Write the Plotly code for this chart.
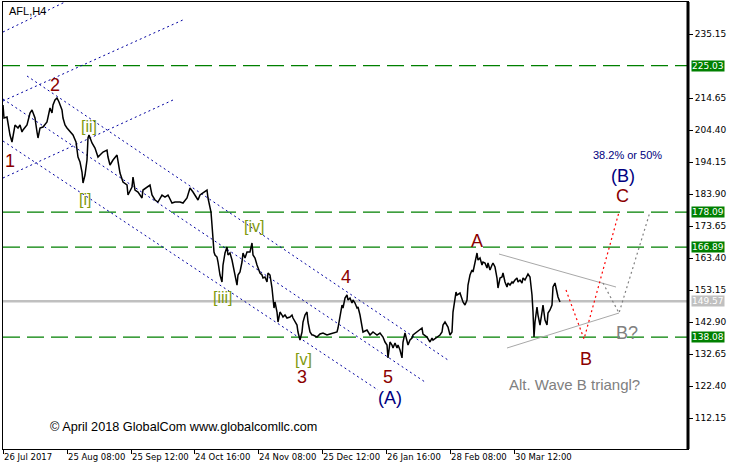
import plotly.graph_objects as go

# ---------------- data ----------------
bars = [0, 1, 4, 7, 9, 10, 12, 15, 17, 19, 20, 24, 27, 29, 30, 32, 34, 35, 37, 40, 44, 47, 49, 50, 52, 54, 56, 59, 60,
        62, 64, 67, 70, 73, 74, 75, 77, 79, 80, 82, 84, 85, 86, 89, 92, 95, 97, 100, 104, 105, 107, 110, 114, 115, 117,
        120, 124, 125, 129, 130, 132, 135, 139, 140, 144, 147, 149, 152, 155, 159, 162, 165, 169, 172, 177, 180, 184,
        187, 190, 195, 197, 200, 204, 205, 207, 208, 209, 210, 211, 212, 214, 215, 217, 219, 220, 222, 224, 225, 227,
        229, 230, 232, 234, 235, 237, 239, 240, 242, 244, 247, 249, 250, 252, 254, 255, 257, 259, 260, 262, 264, 265,
        267, 269, 270, 271, 272, 274, 275, 277, 279, 280, 282, 284, 287, 289, 290, 294, 295, 297, 299, 300, 302, 304,
        305, 307, 309, 310, 314, 317, 320, 324, 327, 330, 334, 335, 337, 339, 340, 342, 344, 345, 347, 349, 350, 352,
        354, 355, 357, 359, 360, 364, 367, 370, 374, 377, 380, 382, 384, 385, 387, 389, 390, 392, 394, 395, 397, 399,
        400, 402, 404, 405, 407, 409, 410, 414, 417, 419, 420, 424, 427, 429, 430, 434, 437, 439, 440, 442, 445, 447,
        449, 450, 452, 453, 454, 457, 460, 462, 464, 465, 467, 469, 470, 472, 474, 475, 477, 479, 480, 482, 484, 485,
        487, 489, 490, 492, 494, 495, 497, 499, 500, 502, 504, 505, 507, 509, 510, 512, 514, 515, 517, 519, 520, 522,
        524, 525, 527, 529, 530, 531, 532, 534, 535, 537, 539, 540, 542, 544, 545, 547, 549, 550, 552, 554, 555, 557]

closes = [212.41, 208.24, 208.56, 202.80, 200.56, 202.80, 206.00, 205.04, 206.00, 203.76, 204.40, 206.00, 209.85,
          210.81, 209.85, 208.24, 203.76, 201.84, 205.04, 205.36, 206.96, 211.45, 209.85, 212.41, 214.01, 214.65,
          213.37, 210.81, 208.24, 206.00, 205.04, 203.76, 202.80, 200.56, 198.64, 195.75, 194.15, 190.95, 187.43,
          189.99, 194.79, 201.84, 202.80, 200.24, 198.64, 195.75, 196.39, 197.35, 197.99, 195.75, 193.19, 194.79,
          196.39, 194.15, 190.63, 187.75, 186.78, 183.58, 186.14, 189.35, 185.18, 184.54, 182.62, 185.18, 186.14,
          186.78, 183.58, 181.98, 181.34, 183.58, 182.94, 183.58, 181.02, 181.34, 181.34, 181.02, 182.62, 185.82,
          184.54, 181.98, 183.58, 184.22, 185.18, 182.62, 179.42, 178.14, 173.97, 169.81, 165.32, 164.36, 163.72,
          162.12, 157.96, 155.71, 161.16, 165.00, 166.92, 164.36, 165.00, 162.76, 161.16, 158.93, 154.73, 157.96,
          158.93, 162.12, 165.00, 163.40, 165.32, 165.32, 168.21, 164.36, 163.40, 161.16, 160.20, 158.60, 157.96,
          157.00, 157.32, 155.71, 158.60, 157.96, 153.79, 149.31, 147.38, 149.31, 146.10, 142.90, 146.10, 145.14,
          144.50, 145.14, 144.18, 144.50, 145.14, 144.18, 141.94, 139.70, 137.14, 139.70, 142.90, 145.14, 146.10,
          142.90, 139.70, 138.74, 138.74, 138.09, 139.06, 139.38, 138.74, 139.06, 139.38, 139.70, 140.98, 145.14,
          148.35, 147.39, 150.59, 151.55, 149.95, 150.59, 148.99, 149.95, 148.99, 147.39, 147.71, 145.14, 140.98,
          139.70, 140.34, 138.74, 139.70, 138.74, 139.38, 138.09, 136.49, 135.54, 131.40, 136.49, 135.54, 134.58,
          136.18, 134.58, 135.54, 133.93, 131.40, 136.49, 139.38, 137.14, 135.54, 137.14, 137.77, 138.74, 139.70,
          140.34, 140.98, 139.06, 138.09, 136.49, 137.77, 137.14, 138.09, 138.74, 139.70, 141.94, 142.90, 141.30,
          138.74, 139.70, 146.10, 150.59, 152.51, 151.55, 152.19, 149.31, 148.35, 149.95, 154.75, 157.96, 159.56,
          158.92, 162.12, 165.00, 162.76, 163.40, 161.16, 162.12, 161.80, 160.20, 161.80, 159.56, 161.16, 161.80,
          160.52, 157.00, 153.79, 157.00, 157.32, 158.60, 155.71, 154.11, 155.39, 154.75, 155.71, 155.39, 156.34,
          157.00, 155.71, 156.34, 155.39, 157.00, 156.34, 157.96, 158.28, 157.32, 151.55, 146.10, 138.09, 142.90,
          147.71, 145.14, 141.94, 146.10, 148.35, 143.54, 141.94, 145.78, 146.75, 148.35, 154.11, 155.39, 152.51,
          150.91, 149.31]

tick_bars = [0, 64, 128, 191, 255, 319, 383, 447, 511]
tick_dates = ["26 Jul 2017", "25 Aug 08:00", "25 Sep 12:00", "24 Oct 16:00", "24 Nov 08:00",
              "25 Dec 12:00", "26 Jan 16:00", "28 Feb 08:00", "30 Mar 12:00"]
price_ticks = [235.15, 214.65, 204.40, 194.15, 183.90, 173.65, 163.40, 153.15, 142.90, 132.65, 122.40, 112.15]

green_levels = [225.03, 178.09, 166.89, 138.08]
grey_level = 149.57

# channel lines: (bar0, price0, bar1, price1)
channel_lines = [
    (0, 235.79, 62, 245.40),
    (0, 213.69, 182, 239.95),
    (0, 189.03, 170, 214.01),
    (24, 221.70, 445, 130.73),
    (0, 214.33, 422, 123.69),
    (0, 200.88, 375, 121.12),
]
triangle_lines = [
    (496, 164.68, 613, 154.11),
    (504, 134.58, 616, 145.79),
]
red_path_bars = [563, 581, 616]
red_path_prices = [153.15, 137.46, 178.14]
grey_path_bars = [600, 616, 647]
grey_path_prices = [155.39, 145.79, 178.14]

# wave labels: (text, bar, price, colour, size)
DR = "#8B0000"
NV = "#000080"
OL = "#7f9a10"
GR = "#808080"
labels = [
    ("1", 7, 194.47, DR, 18), ("2", 52, 218.81, DR, 18), ("3", 299, 125.28, DR, 18),
    ("4", 343, 157.32, DR, 18), ("5", 385, 125.28, DR, 18), ("(A)", 387, 118.56, NV, 18),
    ("A", 474, 168.85, DR, 18), ("B", 583, 131.05, DR, 18), ("C", 619, 183.26, DR, 18),
    ("(B)", 620, 189.67, NV, 18), ("38.2% or 50%", 624, 196.39, NV, 11),
    ("B?", 624, 139.38, GR, 18), ("Alt. Wave B triangl?", 571, 123.04, GR, 15),
    ("[i]", 82, 182.30, OL, 16), ("[ii]", 86, 205.68, OL, 16), ("[iii]", 220, 150.91, OL, 16),
    ("[iv]", 251, 173.65, OL, 16), ("[v]", 300, 131.05, OL, 16),
]

# ---------------- figure ----------------
fig = go.Figure()

for (x0, y0, x1, y1) in channel_lines:
    fig.add_trace(go.Scatter(x=[x0, x1], y=[y0, y1], mode="lines",
                             line=dict(color="#0000a0", width=1, dash="2px,3px"),
                             hoverinfo="skip", showlegend=False))
for (x0, y0, x1, y1) in triangle_lines:
    fig.add_trace(go.Scatter(x=[x0, x1], y=[y0, y1], mode="lines",
                             line=dict(color="#a8a8a8", width=1),
                             hoverinfo="skip", showlegend=False))

fig.add_trace(go.Scatter(x=red_path_bars, y=red_path_prices, mode="lines",
                         line=dict(color="#ff0000", width=1.2, dash="2px,3px"),
                         hoverinfo="skip", showlegend=False))
fig.add_trace(go.Scatter(x=grey_path_bars, y=grey_path_prices, mode="lines",
                         line=dict(color="#808080", width=1.2, dash="2px,3px"),
                         hoverinfo="skip", showlegend=False))

fig.add_trace(go.Scatter(x=bars, y=closes, mode="lines",
                         line=dict(color="black", width=1.5),
                         hoverinfo="skip", showlegend=False))

shapes = []
for lv in green_levels:
    shapes.append(dict(type="line", xref="paper", x0=0, x1=1, yref="y", y0=lv, y1=lv,
                       line=dict(color="#008000", width=1.3, dash="17px,7px"), layer="below"))
shapes.append(dict(type="line", xref="paper", x0=0, x1=1, yref="y", y0=grey_level, y1=grey_level,
                   line=dict(color="#c0c0c0", width=2.5), layer="below"))
shapes.append(dict(type="line", xref="paper", x0=1, x1=1, yref="paper", y0=0, y1=1,
                   line=dict(color="black", width=3)))

annotations = []
for (txt, bx, py, col, sz) in labels:
    annotations.append(dict(text=txt, x=bx, y=py, xref="x", yref="y", showarrow=False,
                            xanchor="center", yanchor="middle",
                            font=dict(family="Liberation Sans, Arial", size=sz, color=col)))

for lv in green_levels:
    annotations.append(dict(text=f"{lv:.2f}", x=1, xref="paper", y=lv, yref="y", showarrow=False,
                            xanchor="left", yanchor="middle", xshift=3, bgcolor="#008000", borderpad=0,
                            font=dict(family="DejaVu Sans", size=9, color="white")))
annotations.append(dict(text=f"{grey_level:.2f}", x=1, xref="paper", y=grey_level, yref="y", showarrow=False,
                        xanchor="left", yanchor="middle", xshift=3, bgcolor="#c0c0c0", borderpad=0,
                        font=dict(family="DejaVu Sans", size=9, color="white")))

annotations.append(dict(text="AFL,H4", x=0, xref="paper", y=1, yref="paper", xanchor="left", yanchor="top",
                        xshift=4, yshift=-1, showarrow=False,
                        font=dict(family="Liberation Sans, Arial", size=11, color="black")))
annotations.append(dict(text="© April 2018 GlobalCom www.globalcomllc.com", x=45, y=109.27, xref="x", yref="y",
                        xanchor="left", yanchor="middle", showarrow=False,
                        font=dict(family="Liberation Sans, Arial", size=12.7, color="black")))

fig.update_layout(
    width=732, height=468, autosize=False,
    margin=dict(l=3, r=44, t=2, b=19, pad=0, autoexpand=False),
    paper_bgcolor="white", plot_bgcolor="white",
    shapes=shapes, annotations=annotations,
    xaxis=dict(range=[0, 685], tickmode="array", tickvals=tick_bars, ticktext=tick_dates,
               ticks="outside", ticklen=4, tickcolor="black", ticklabelposition="outside right",
               tickangle=0,
               showgrid=False, zeroline=False, showline=True, linecolor="black", linewidth=1, mirror=True,
               tickfont=dict(family="DejaVu Sans", size=8.5, color="black")),
    yaxis=dict(range=[102.23, 245.40], side="right", tickmode="array", tickvals=price_ticks,
               ticktext=[f"{v:.2f}" for v in price_ticks],
               ticks="outside", ticklen=4, tickcolor="black",
               showgrid=False, zeroline=False, showline=True, linecolor="black", linewidth=1, mirror=True,
               tickfont=dict(family="DejaVu Sans", size=9, color="black")),
)

fig.write_html("out.html", config={"displayModeBar": False},
               post_script="document.body.style.margin='0px';document.body.style.overflow='hidden';")
